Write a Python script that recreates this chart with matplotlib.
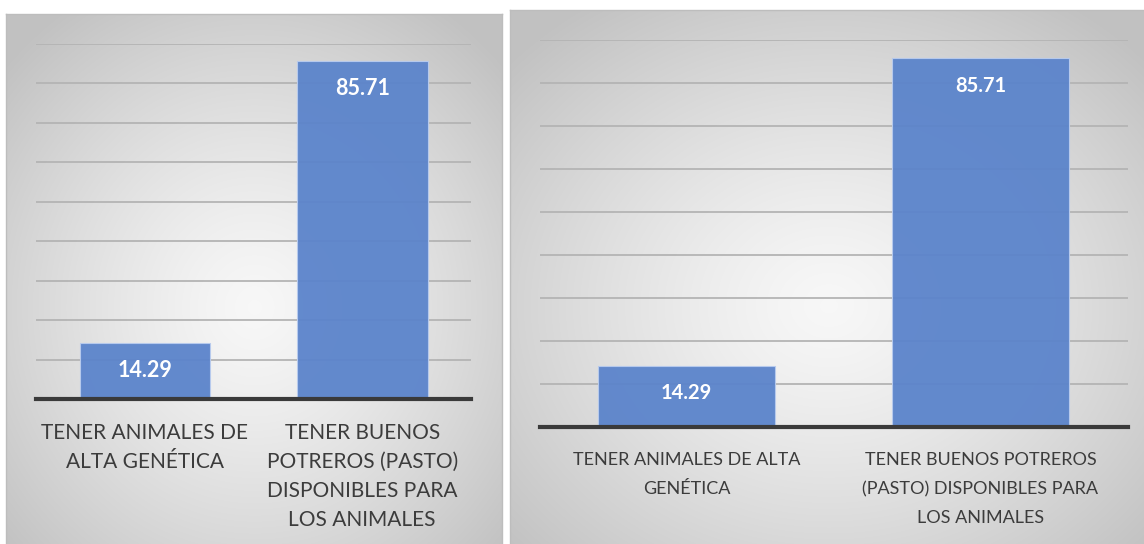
import numpy as np
import matplotlib
matplotlib.use("Agg")
import matplotlib.pyplot as plt

plt.rcParams['font.family'] = ['Lato', 'DejaVu Sans']

# datos
valores = [14.29, 85.71]
etiquetas_izq = ["TENER ANIMALES DE\nALTA GENÉTICA",
                 "TENER BUENOS\nPOTREROS (PASTO)\nDISPONIBLES PARA\nLOS ANIMALES"]
etiquetas_der = ["TENER ANIMALES DE ALTA\nGENÉTICA",
                 "TENER BUENOS POTREROS\n(PASTO) DISPONIBLES PARA\nLOS ANIMALES"]
yticks = np.arange(0, 100, 10)

W, H = 1144, 544
fig = plt.figure(figsize=(W / 100, H / 100), dpi=100)
fig.patch.set_facecolor("white")


def px(x0, y0, x1, y1):
    # caja en pixeles (desde arriba) -> coordenadas de figura
    return [x0 / W, 1 - y1 / H, (x1 - x0) / W, (y1 - y0) / H]


def fondo(caja, cy=0.55):
    ax = fig.add_axes(px(*caja), zorder=0)
    h, w = 300, 300
    yy, xx = np.mgrid[0:h, 0:w]
    r = np.sqrt(((xx - w * 0.5) / (w * 0.5)) ** 2 + ((yy - h * cy) / (h * 0.5)) ** 2)
    r = np.clip(r / 1.35, 0, 1)
    g = 0.97 - (0.97 - 0.76) * r ** 1.3
    ax.imshow(np.dstack([g, g, g]), aspect="auto", interpolation="bilinear",
              extent=[0, 1, 0, 1])
    ax.set_xlim(0, 1)
    ax.set_ylim(0, 1)
    ax.set_xticks([])
    ax.set_yticks([])
    for s in ax.spines.values():
        s.set_color("#bdbdbd")
        s.set_linewidth(1.0)


def grafico(caja, etiquetas, fs_tick, fs_val, pad, ls):
    ax = fig.add_axes(px(*caja), zorder=2)
    ax.patch.set_alpha(0)
    x = np.arange(len(valores))
    barras = ax.bar(x, valores, width=0.6, color="#5b84cb", edgecolor="#b8cbee",
                    linewidth=0.8, alpha=0.95, zorder=3)
    for b, v in zip(barras, valores):
        ax.annotate(f"{v:.2f}", (b.get_x() + b.get_width() / 2, v),
                    xytext=(0, -20), textcoords="offset points",
                    ha="center", va="center", color="white",
                    fontsize=fs_val, fontweight="bold", zorder=4)
    ax.set_xlim(-0.5, 1.5)
    ax.set_ylim(0, 90)
    ax.set_yticks(yticks)
    ax.yaxis.grid(True, color="#b4b4b4", linewidth=1.3, zorder=1)
    ax.set_axisbelow(True)
    ax.tick_params(axis="y", left=False, labelleft=False)
    ax.set_xticks(x)
    ax.set_xticklabels(etiquetas, fontsize=fs_tick, color="#3c3c3c",
                       linespacing=ls)
    ax.tick_params(axis="x", length=0, pad=pad)
    for k in ("top", "right", "left"):
        ax.spines[k].set_visible(False)
    ax.spines["bottom"].set_color("#3a3a3a")
    ax.spines["bottom"].set_linewidth(3)
    ax.spines["bottom"].set_zorder(5)
    return ax


fondo((6, 14, 502, 546))
grafico((36, 44, 471, 399), etiquetas_izq, 15, 15.5, 17, 1.58)

fondo((510, 10, 1146, 546))
grafico((539.5, 40, 1127.5, 427), etiquetas_der, 13, 14.5, 18, 2.0)

fig.savefig("out.png", dpi=100)
